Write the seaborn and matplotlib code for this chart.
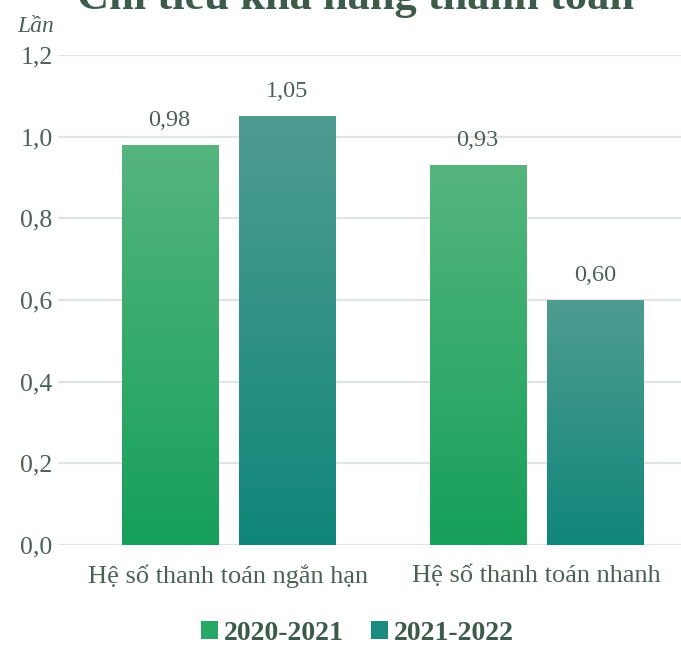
import numpy as np
import pandas as pd
import matplotlib
matplotlib.use("Agg")
import matplotlib.pyplot as plt
from matplotlib.colors import to_rgb
from matplotlib.patches import Patch
import seaborn as sns

# Data
categories = ["Hệ số thanh toán ngắn hạn", "Hệ số thanh toán nhanh"]
periods = ["2020-2021", "2021-2022"]
values_2020_2021 = [0.98, 0.93]
values_2021_2022 = [1.05, 0.60]
yticks = [0.0, 0.2, 0.4, 0.6, 0.8, 1.0, 1.2]

df = pd.DataFrame({
    "category": categories * 2,
    "period": [periods[0]] * 2 + [periods[1]] * 2,
    "value": values_2020_2021 + values_2021_2022,
})

# gradient colours per period (top, bottom)
grad = {
    periods[0]: ("#55b57d", "#16a05a"),
    periods[1]: ("#4f9c91", "#10867a"),
}
solid = {periods[0]: "#27a866", periods[1]: "#1a8b7e"}

txt = "#4a6256"
sns.set_style("white")
plt.rcParams["font.family"] = ["Liberation Serif", "DejaVu Serif"]

fig = plt.figure(figsize=(6.81, 6.45), dpi=100)
ax = fig.add_axes([58 / 681, 100 / 645, 623 / 681, 490 / 645])

sns.barplot(data=df, x="category", y="value", hue="period", order=categories,
            hue_order=periods, palette=solid, width=0.76, gap=0.18,
            legend=False, ax=ax)

# gradient fill clipped to each bar
for per, cont in zip(periods, ax.containers):
    top, bot = np.array(to_rgb(grad[per][0])), np.array(to_rgb(grad[per][1]))
    t = np.linspace(0, 1, 256)[:, None]
    img = (top * (1 - t) + bot * t)[:, None, :]
    for bar in cont:
        x0, y0 = bar.get_x(), bar.get_y()
        w, h = bar.get_width(), bar.get_height()
        im = ax.imshow(img, extent=[x0, x0 + w, y0, y0 + h], aspect="auto",
                       origin="upper", zorder=2)
        im.set_clip_path(bar)
        bar.set_facecolor("none")
        bar.set_edgecolor("none")
        ax.text(x0 + w / 2, y0 + h + 0.035, f"{h:.2f}".replace(".", ","),
                ha="center", va="bottom", fontsize=17.5, color=txt)

ax.set_xlim(-0.552, 1.47)
ax.set_ylim(0, 1.2)
ax.set_yticks(yticks)
ax.set_yticklabels([f"{v:.1f}".replace(".", ",") for v in yticks])
ax.yaxis.grid(True, color="#e0e4e2", linewidth=1.6)
ax.set_axisbelow(True)
for s in ax.spines.values():
    s.set_visible(False)
ax.tick_params(axis="y", length=0, pad=4, labelsize=18.5, labelcolor=txt)
ax.tick_params(axis="x", length=0, pad=14, labelsize=19, labelcolor=txt)
ax.set_xlabel("")
ax.set_ylabel("")

fig.text(17 / 681, 1 - 27 / 645, "Lần", fontsize=17, style="italic",
         color=txt, ha="left", va="center")
fig.text(356 / 681, 1 - 9 / 645, "Chỉ tiêu khả năng thanh toán",
         fontsize=32, fontweight="bold", color="#3c5b4b", ha="center",
         va="baseline")

handles = [Patch(facecolor=solid[p], edgecolor="none") for p in periods]
fig.legend(handles, periods, loc="center", bbox_to_anchor=(0.525, 12 / 645),
           ncol=2, frameon=False, handlelength=0.6, handleheight=0.6,
           handletextpad=0.2, columnspacing=1.0,
           prop={"size": 20, "weight": "bold"}, labelcolor="#3c5b4b")

fig.savefig("out.png", dpi=100)
